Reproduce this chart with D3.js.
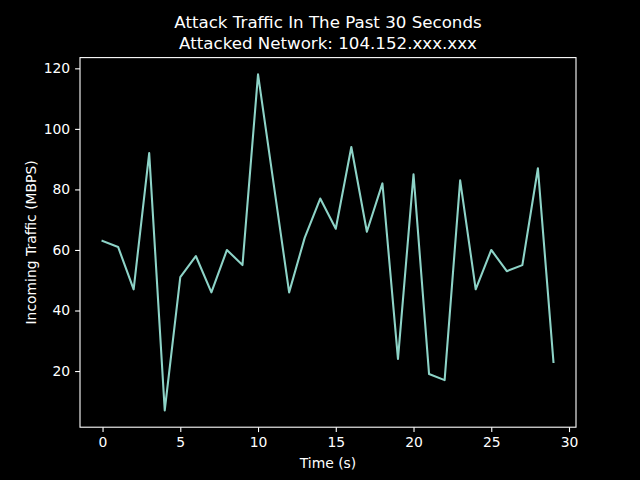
<!DOCTYPE html>
<html>
<head>
<meta charset="utf-8">
<script src="https://cdn.jsdelivr.net/npm/d3@7"></script>
<style>
  html, body { margin: 0; padding: 0; background: #000; }
  text { font-family: "DejaVu Sans", sans-serif; fill: #fff; }
</style>
</head>
<body>
<div id="chart"></div>
<script>
// seconds and traffic
const seconds = d3.range(0, 30);
const traffic = [63, 61, 47, 92, 7, 51, 58, 46, 60, 55,
                 118, 82, 46, 64, 77, 67, 94, 66, 82, 24,
                 85, 19, 17, 83, 47, 60, 53, 55, 87, 23];
const xTicks = [0, 5, 10, 15, 20, 25, 30];
const yTicks = [20, 40, 60, 80, 100, 120];
const titleLines = ['Attack Traffic In The Past 30 Seconds', 'Attacked Network: 104.152.xxx.xxx'];

const width = 640, height = 480;
const margin = { top: 57.6, right: 64, bottom: 52.8, left: 80 };
const innerW = width - margin.left - margin.right;
const innerH = height - margin.top - margin.bottom;

const svg = d3.select('#chart').append('svg')
  .attr('width', width)
  .attr('height', height)
  .style('background', '#000');

// matplotlib style 5% padding
const xPad = (d3.max(seconds) - d3.min(seconds)) * 0.05;
const yExt = d3.extent(traffic);
const yPad = (yExt[1] - yExt[0]) * 0.05;

const x = d3.scaleLinear()
  .domain([d3.min(seconds) - xPad, d3.max(seconds) + xPad])
  .range([margin.left, margin.left + innerW]);
const y = d3.scaleLinear()
  .domain([yExt[0] - yPad, yExt[1] + yPad])
  .range([margin.top + innerH, margin.top]);

const line = d3.line()
  .x((d, i) => x(seconds[i]))
  .y(d => y(d));

svg.append('path')
  .datum(traffic)
  .attr('fill', 'none')
  .attr('stroke', '#8dd3c7')
  .attr('stroke-width', 2.08)
  .attr('stroke-linejoin', 'round')
  .attr('stroke-linecap', 'square')
  .attr('d', line);

// frame
svg.append('rect')
  .attr('x', margin.left)
  .attr('y', margin.top)
  .attr('width', innerW)
  .attr('height', innerH)
  .attr('fill', 'none')
  .attr('stroke', '#fff')
  .attr('stroke-width', 1.1);

const xAxis = svg.append('g')
  .attr('transform', `translate(0,${margin.top + innerH})`)
  .call(d3.axisBottom(x).tickValues(xTicks).tickSize(4.9).tickPadding(4.9));
const yAxis = svg.append('g')
  .attr('transform', `translate(${margin.left},0)`)
  .call(d3.axisLeft(y).tickValues(yTicks).tickSize(4.9).tickPadding(4.9));

[xAxis, yAxis].forEach(g => {
  g.select('.domain').remove();
  g.selectAll('.tick line').attr('stroke', '#fff').attr('stroke-width', 1.1);
  g.selectAll('.tick text')
    .attr('fill', '#fff')
    .style('font-family', '"DejaVu Sans", sans-serif')
    .style('font-size', '13.9px');
});

svg.append('text')
  .attr('x', margin.left + innerW / 2)
  .attr('y', 468)
  .attr('text-anchor', 'middle')
  .style('font-size', '13.9px')
  .text('Time (s)');

svg.append('text')
  .attr('transform', `translate(35.5,${margin.top + innerH / 2}) rotate(-90)`)
  .attr('text-anchor', 'middle')
  .style('font-size', '13.9px')
  .text('Incoming Traffic (MBPS)');

svg.selectAll('.title')
  .data(titleLines)
  .enter().append('text')
  .attr('class', 'title')
  .attr('x', margin.left + innerW / 2)
  .attr('y', (d, i) => 27.7 + i * 21.6)
  .attr('text-anchor', 'middle')
  .style('font-size', '16.67px')
  .text(d => d);
</script>
</body>
</html>
